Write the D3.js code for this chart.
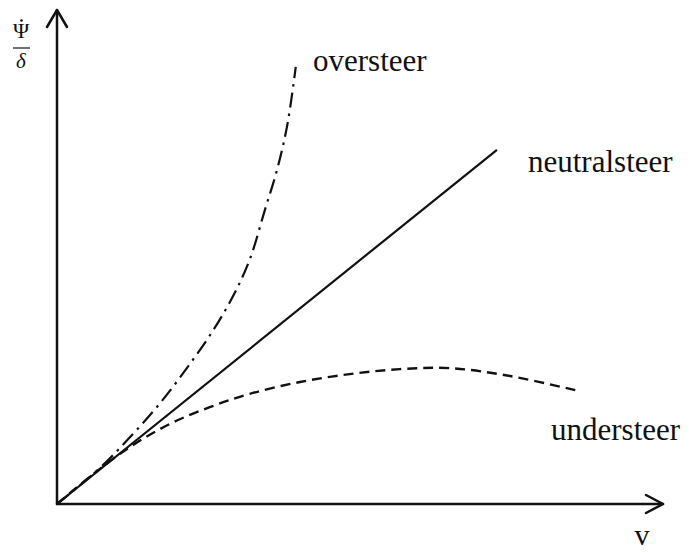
<!DOCTYPE html>
<html>
<head>
<meta charset="utf-8">
<script src="https://cdn.jsdelivr.net/npm/d3@7"></script>
<style>
  html, body { margin: 0; padding: 0; background: #fff; }
  svg { display: block; }
  text { font-family: "Liberation Serif", "Times New Roman", serif; fill: #111; }
</style>
</head>
<body>
<svg id="chart" width="689" height="552"></svg>
<script>
// Yaw-rate gain (ψ̇/δ) against speed v for the three steering behaviours
const neutralV = [0, 7.26];
const neutralGain = [0, 7.17];

const overV    = [0, 0.71, 1.21, 1.70, 2.19, 2.61, 2.94, 3.19, 3.43, 3.63, 3.80, 3.94];
const overGain = [0, 0.73, 1.36, 2.04, 2.83, 3.58, 4.29, 4.98, 5.95, 6.76, 7.67, 8.85];

const underV    = [0, 0.54, 1.20, 1.86, 2.52, 3.18, 4.01, 4.83, 5.66, 6.49, 7.48, 8.60];
const underGain = [0, 0.55, 1.15, 1.62, 1.96, 2.23, 2.47, 2.63, 2.73, 2.75, 2.59, 2.29];

const seriesLabels = ["oversteer", "neutralsteer", "understeer"];

const svg = d3.select("#chart");
const x = d3.scaleLinear().domain([0, 10]).range([57, 663]);
const y = d3.scaleLinear().domain([0, 10]).range([504, 10]);

const zip = (a, b) => a.map((v, i) => [v, b[i]]);
const line = d3.line().x(d => x(d[0])).y(d => y(d[1])).curve(d3.curveCatmullRom.alpha(0.5));

// axes with open arrow heads
const ax = svg.append("g").attr("fill", "none").attr("stroke", "#111")
  .attr("stroke-width", 2.5).attr("stroke-linecap", "round").attr("stroke-linejoin", "round");
ax.append("line").attr("x1", x(0)).attr("y1", y(0)).attr("x2", x(0)).attr("y2", y(10));
ax.append("line").attr("x1", x(0)).attr("y1", y(0)).attr("x2", x(10)).attr("y2", y(0));
ax.append("path").attr("d", `M${x(0) - 10},${y(10) + 17}L${x(0)},${y(10)}L${x(0) + 10},${y(10) + 17}`);
ax.append("path").attr("d", `M${x(10) - 17},${y(0) - 9}L${x(10)},${y(0)}L${x(10) - 17},${y(0) + 9}`);

// curves
const curves = svg.append("g").attr("fill", "none").attr("stroke", "#111");
curves.append("path").attr("d", line(zip(underV, underGain)))
  .attr("stroke-width", 2.4).attr("stroke-dasharray", "10,6");
curves.append("path").attr("d", line(zip(overV, overGain)))
  .attr("stroke-width", 2.2).attr("stroke-dasharray", "15,6,2.5,6");
curves.append("path").attr("d", line(zip(neutralV, neutralGain)))
  .attr("stroke-width", 2.2);

// curve labels
svg.append("text").attr("x", 313).attr("y", 71).attr("font-size", 31).text(seriesLabels[0]);
svg.append("text").attr("x", 528).attr("y", 172).attr("font-size", 31).text(seriesLabels[1]);
svg.append("text").attr("x", 551).attr("y", 440).attr("font-size", 31).text(seriesLabels[2]);

// axis titles
svg.append("text").attr("x", 642).attr("y", 545).attr("font-size", 30)
  .attr("text-anchor", "middle").text("v");
const yt = svg.append("g");
yt.append("text").attr("x", 21).attr("y", 38).attr("font-size", 22)
  .attr("text-anchor", "middle").text("Ψ");
// time-derivative dot over Ψ
yt.append("circle").attr("cx", 21.5).attr("cy", 20.5).attr("r", 1.3).attr("fill", "#111");
yt.append("line").attr("x1", 13).attr("x2", 30).attr("y1", 48).attr("y2", 48)
  .attr("stroke", "#111").attr("stroke-width", 1.2);
yt.append("text").attr("x", 21).attr("y", 68).attr("font-size", 21)
  .attr("font-style", "italic").attr("text-anchor", "middle").text("δ");
</script>
</body>
</html>
